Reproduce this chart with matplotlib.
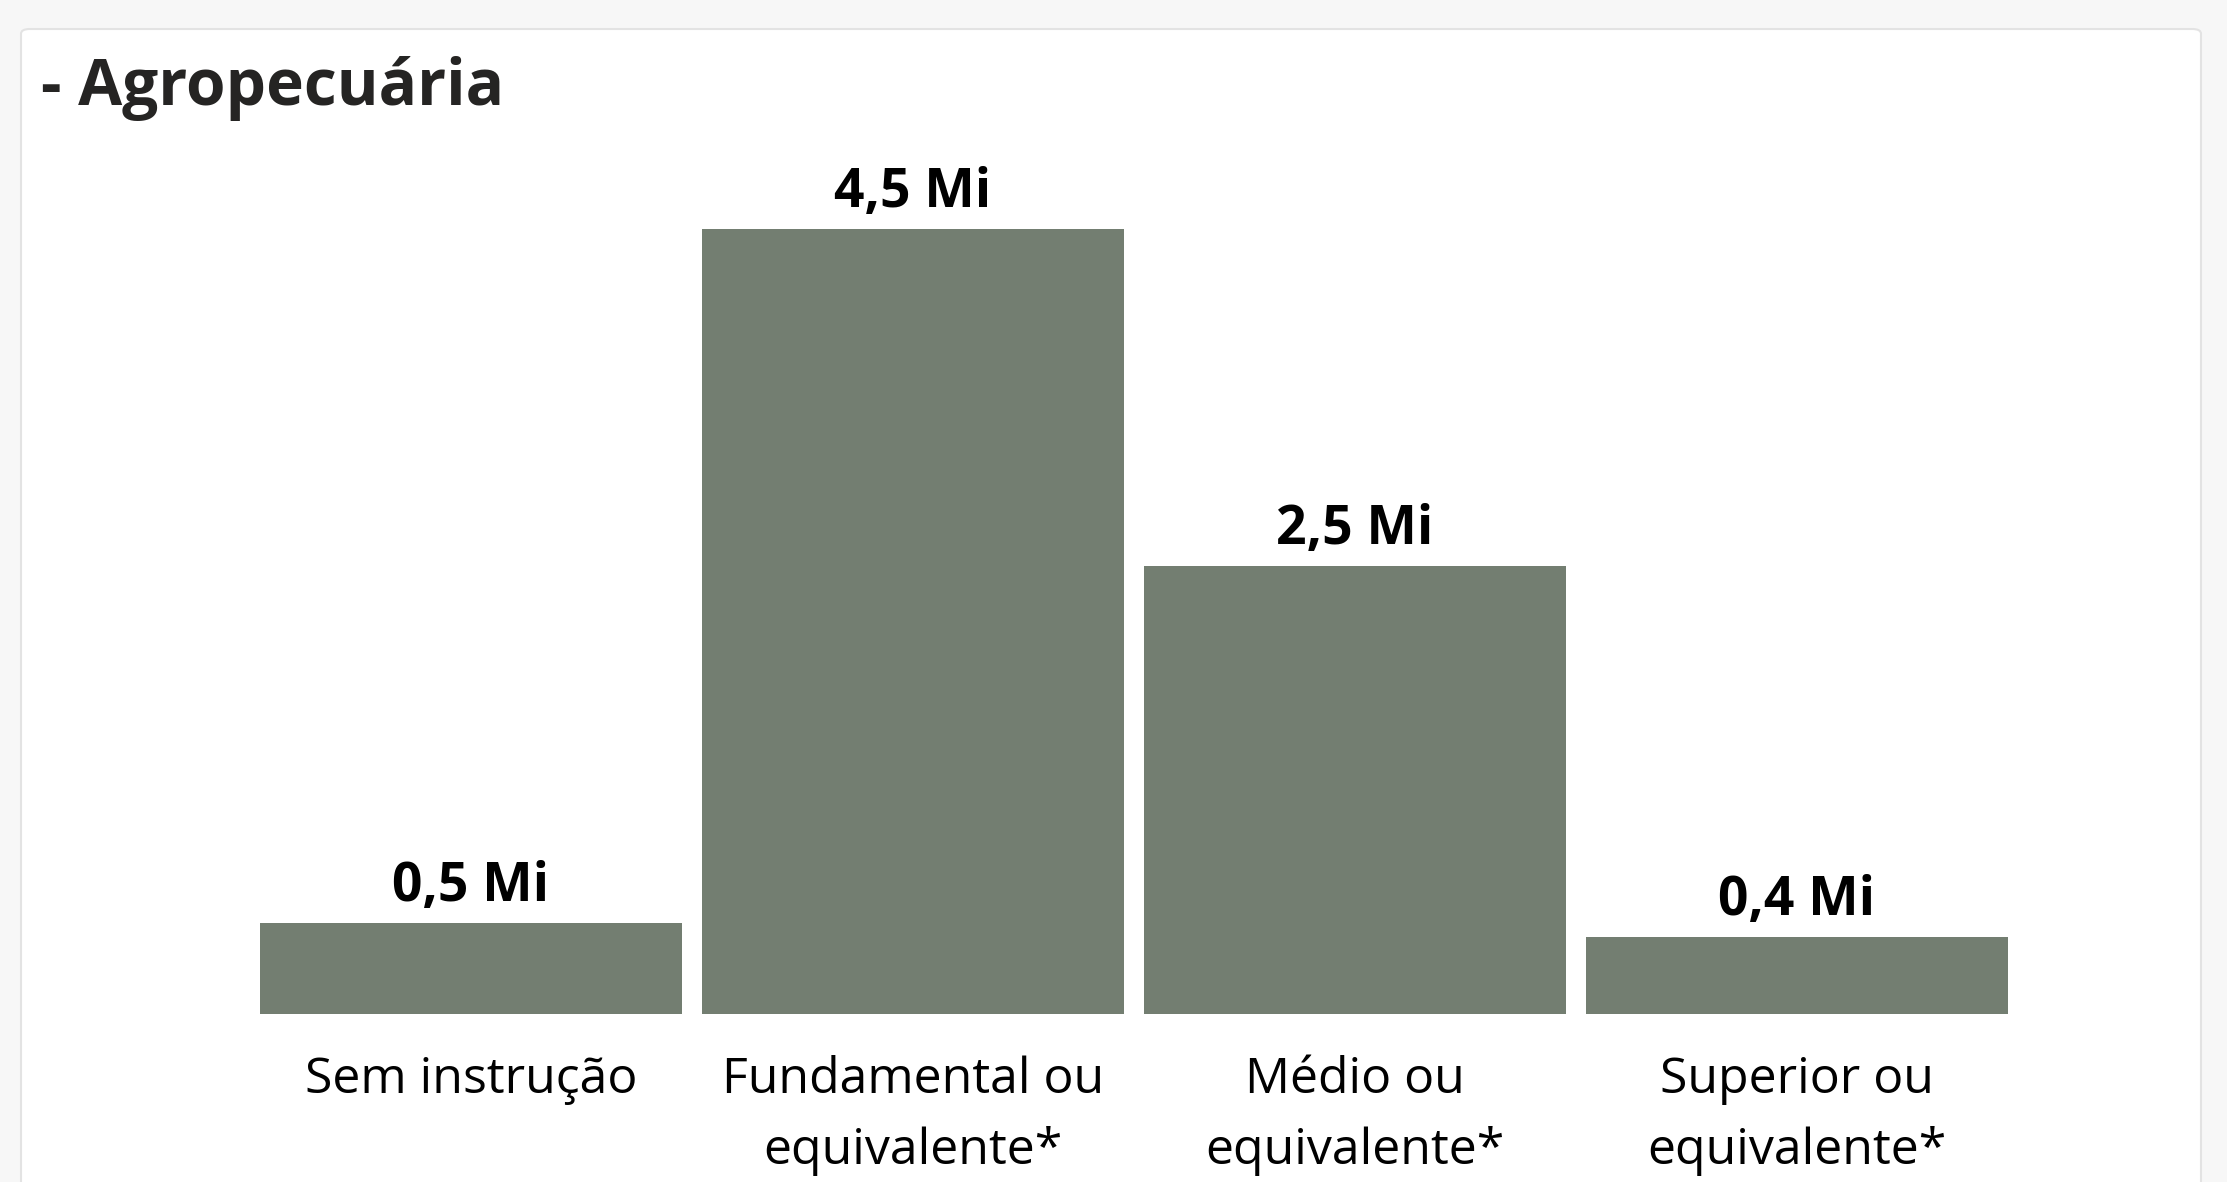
import matplotlib
matplotlib.use("Agg")
import matplotlib.pyplot as plt
from matplotlib.patches import FancyBboxPatch

categories = ["Sem instrução", "Fundamental ou\nequivalente*", "Médio ou\nequivalente*", "Superior ou\nequivalente*"]
values = [0.52, 4.50, 2.57, 0.44]
value_labels = ["0,5 Mi", "4,5 Mi", "2,5 Mi", "0,4 Mi"]
title = "- Agropecuária"

W, H = 2227, 1182
DPI = 100
fig = plt.figure(figsize=(W / DPI, H / DPI), dpi=DPI)
fig.patch.set_facecolor("#f7f7f7")

def fx(px):
    return px / W

def fy(py):
    return 1 - py / H

# card
card = FancyBboxPatch((fx(21), fy(1240)), fx(2201) - fx(21), fy(29) - fy(1240),
                      boxstyle="round,pad=0,rounding_size=0.004",
                      transform=fig.transFigure, facecolor="white",
                      edgecolor="#e3e3e3", linewidth=1.5, zorder=-10)
fig.patches.append(card)

fig.text(fx(41), fy(105), title, fontsize=46, fontweight="bold", color="#252423",
         family="Open Sans", va="baseline", ha="left")

ax_left, ax_right, ax_top, ax_bottom = 250, 2018, 150, 1014
ax = fig.add_axes([fx(ax_left), fy(ax_bottom), fx(ax_right) - fx(ax_left), fy(ax_top) - fy(ax_bottom)])
ax.set_zorder(5)
ax.set_facecolor("none")
ymax = 4.5 * (ax_bottom - ax_top) / (1014 - 229)
ax.set_xlim(-0.5, 3.5)
ax.set_ylim(0, ymax)

x = list(range(len(categories)))
bars = ax.bar(x, values, width=0.955, color="#737e71", zorder=2)
for xi, v, lab in zip(x, values, value_labels):
    ax.annotate(lab, (xi, v), xytext=(0, 22), textcoords="offset pixels",
                ha="center", va="baseline", fontsize=38.5, fontweight="bold",
                color="black", family="Open Sans")

ax.set_xticks(x)
ax.set_xticklabels(categories, fontsize=36, family="Open Sans", color="black",
                   linespacing=1.55)
ax.tick_params(axis="x", length=0, pad=30)
ax.set_yticks([])
for s in ax.spines.values():
    s.set_visible(False)

fig.savefig("out.png", dpi=DPI)
